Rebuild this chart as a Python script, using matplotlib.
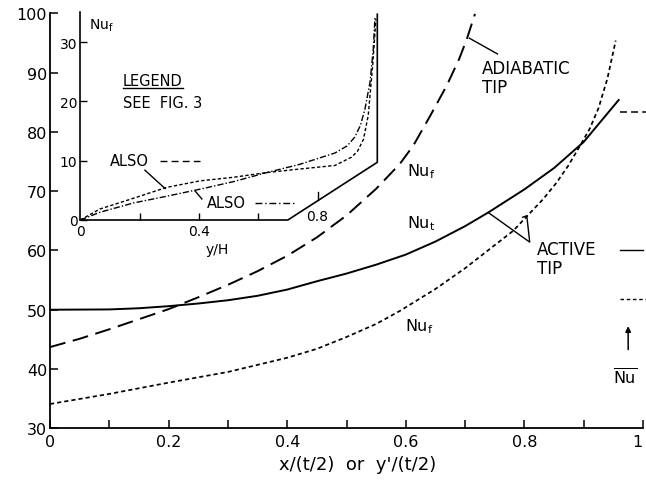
import matplotlib
matplotlib.use("Agg")
import matplotlib.pyplot as plt

plt.rcParams['font.family'] = ['DejaVu Sans']
plt.rcParams['lines.scale_dashes'] = False
plt.rcParams['mathtext.default'] = 'regular'

# ---- main chart data ----
solid_x = [0, 0.1, 0.15, 0.2, 0.25, 0.3, 0.35, 0.4, 0.45, 0.5, 0.55, 0.6, 0.65, 0.7, 0.739, 0.8, 0.85, 0.9, 0.96]
solid_y = [50, 50.05, 50.25, 50.6, 51.05, 51.6, 52.35, 53.4, 54.8, 56.1, 57.6, 59.3, 61.5, 64.1, 66.4, 70.3, 73.9, 78.3, 85.5]

adiab_x = [0, 0.05, 0.1, 0.15, 0.2, 0.25, 0.3, 0.35, 0.4, 0.45, 0.5, 0.55, 0.59, 0.6127, 0.64, 0.669, 0.69, 0.7027, 0.7167]
adiab_y = [43.7, 45.1, 46.7, 48.4, 50.1, 52.1, 54.2, 56.5, 59.1, 62.2, 65.9, 70.4, 74.6, 77.7, 82.5, 87.8, 92.3, 95.6, 99.9]

dot_x = [0, 0.1, 0.2, 0.3, 0.35, 0.4, 0.45, 0.5, 0.55, 0.59, 0.65, 0.7, 0.75, 0.781, 0.832, 0.854, 0.874, 0.894, 0.91, 0.925, 0.94, 0.954]
dot_y = [34.1, 35.8, 37.7, 39.5, 40.7, 41.9, 43.4, 45.4, 47.6, 49.8, 53.5, 57.0, 60.9, 63.3, 68.7, 71.4, 74.3, 77.7, 80.5, 84.0, 89.0, 95.4]

xticks = [0, 0.1, 0.2, 0.3, 0.4, 0.5, 0.6, 0.7, 0.8, 0.9, 1.0]
xticklabels = ['0', '', '0.2', '', '0.4', '', '0.6', '', '0.8', '', '1']
yticks = [30, 40, 50, 60, 70, 80, 90, 100]

# mean Nu markers at right
nubar_dash = 83.4
nubar_solid = 60.0
nubar_dot = 51.8

# ---- inset data ----
in_dash_x = [0, 0.066, 0.179, 0.291, 0.404, 0.516, 0.629, 0.741, 0.859, 0.915, 0.935, 0.955, 0.971, 0.986, 0.997]
in_dash_y = [0, 1.85, 3.66, 5.5, 6.6, 7.2, 8.0, 8.6, 9.2, 10.6, 11.6, 13.6, 17.6, 26.0, 33.9]
in_dd_x = [0, 0.066, 0.179, 0.291, 0.404, 0.516, 0.629, 0.741, 0.859, 0.9, 0.926, 0.945, 0.960, 0.977, 0.988, 0.994]
in_dd_y = [0, 1.3, 2.87, 4.0, 5.2, 6.46, 8.0, 9.4, 11.3, 12.5, 14.0, 16.0, 18.7, 23.2, 28.8, 34.4]
in_yticks = [0, 10, 20, 30]
in_xticks = [0.2, 0.4, 0.6]

W, H = 646, 485
fig = plt.figure(figsize=(W / 100, H / 100), dpi=100)

def fx(px):
    return px / W

def fy(py):
    return 1 - py / H

# main axes
ax = fig.add_axes([fx(50), fy(429.3), 593 / W, 415 / H])
ax.set_xlim(0, 1)
ax.set_ylim(30, 100)
for s in ['top', 'right']:
    ax.spines[s].set_visible(False)
for s in ['left', 'bottom']:
    ax.spines[s].set_linewidth(1.3)
ax.set_xticks(xticks)
ax.set_xticklabels(xticklabels)
ax.set_yticks(yticks)
ax.tick_params(direction='in', length=6, width=1.1, labelsize=11.5, pad=2)
ax.tick_params(axis='x', pad=4)
ax.get_xticklabels()[-1].set_horizontalalignment('right')
ax.patch.set_alpha(0)

ax.plot(solid_x, solid_y, color='black', lw=1.4, solid_capstyle='butt')
ax.plot(adiab_x, adiab_y, color='black', lw=1.4, dashes=(11.5, 5.5))
ax.plot(dot_x, dot_y, color='black', lw=1.25, dashes=(3, 2.2))

# labels on curves
ax.text(0.6015, 73.4, 'Nu$_\\mathregular{f}$', fontsize=11.5, va='center', ha='left')
ax.text(0.6015, 64.7, 'Nu$_\\mathregular{t}$', fontsize=11.5, va='center', ha='left')
ax.text(0.599, 47.3, 'Nu$_\\mathregular{f}$', fontsize=11.5, va='center', ha='left')

ax.text(0.728, 89.2, 'ADIABATIC\nTIP', fontsize=12, va='center', ha='left', linespacing=1.05)
ax.plot([0.7072, 0.7545], [95.8, 93.15], color='black', lw=1.0)

ax.text(0.821, 58.7, 'ACTIVE\nTIP', fontsize=12, va='center', ha='left', linespacing=1.05)
ax.plot([0.739, 0.809, 0.804, 0.797], [66.4, 61.4, 65.85, 65.6], color='black', lw=1.0)

# right-hand mean Nu markers
ax.plot([0.961, 1.01], [nubar_dash, nubar_dash], color='black', lw=1.1, dashes=(5, 3), clip_on=False)
ax.plot([0.961, 1.0], [nubar_solid, nubar_solid], color='black', lw=1.0, clip_on=False)
ax.plot([0.961, 1.01], [nubar_dot, nubar_dot], color='black', lw=1.0, dashes=(2.5, 2), clip_on=False)
ax.annotate('', xy=(0.975, 47.7), xytext=(0.975, 42.8),
            arrowprops=dict(arrowstyle='-|>', color='black', lw=1.1, mutation_scale=8),
            annotation_clip=False)
ax.text(0.970, 38.7, '$\\overline{\\mathregular{Nu}}$', fontsize=11.5, ha='center', va='center')

fig.text(fx(358), fy(465), "x/(t/2)  or  y'/(t/2)", fontsize=13, ha='center', va='center')

# inset axes
ix0, iy0 = 80.3, 221.0
ipx_x = 296.5   # pixels per unit y/H
ipx_y = 5.93    # pixels per Nu unit
iymax = 35
ai = fig.add_axes([fx(ix0), fy(iy0), ipx_x / W, iymax * ipx_y / H])
ai.set_xlim(0, 1.0)
ai.set_ylim(0, iymax)
ai.patch.set_alpha(0)
for s in ['top', 'right', 'bottom']:
    ai.spines[s].set_visible(False)
ai.spines['left'].set_linewidth(1.2)
ai.set_yticks(in_yticks)
ai.set_xticks(in_xticks)
ai.set_xticklabels(['', '0.4', ''])
ai.tick_params(direction='in', length=5, width=1.0, labelsize=10, pad=2)
ai.tick_params(axis='x', pad=3)

# broken/perspective x-axis of the inset
ai.plot([0, 0.70, 1.0017, 1.0017], [0, 0, 9.73, iymax - 0.3], color='black', lw=1.2, clip_on=False)
ai.plot([0.803, 0.803], [3.35, 4.75], color='black', lw=1.0, clip_on=False)
ai.text(0.80, 0.6, '0.8', fontsize=10, ha='center', va='center')
ai.text(0.0, -1.9, '0', fontsize=10, ha='center', va='center')
ai.text(0.46, -4.9, 'y/H', fontsize=10, ha='center', va='center')
ai.text(0.03, 33.0, 'Nu$_\\mathregular{f}$', fontsize=10, ha='left', va='center')

ai.plot(in_dash_x, in_dash_y, color='black', lw=1.0, dashes=(2.4, 1.6))
ai.plot(in_dd_x, in_dd_y, color='black', lw=1.0, dashes=(4.5, 1.5, 1, 1.5))

ai.text(0.144, 23.6, 'LEGEND', fontsize=10.5, ha='left', va='center')
ai.plot([0.144, 0.347], [22.2, 22.2], color='black', lw=1.0)
ai.text(0.144, 19.8, 'SEE  FIG. 3', fontsize=10.5, ha='left', va='center')

ai.text(0.10, 9.95, 'ALSO', fontsize=10.5, ha='left', va='center')
ai.plot([0.27, 0.405], [9.95, 9.95], color='black', lw=1.0, dashes=(5, 3))
ai.plot([0.218, 0.286], [8.4, 5.3], color='black', lw=1.0)
ai.text(0.427, 2.87, 'ALSO', fontsize=10.5, ha='left', va='center')
ai.plot([0.590, 0.727], [2.87, 2.87], color='black', lw=1.0, dashes=(5, 2, 1, 2))
ai.plot([0.41, 0.387], [3.55, 4.9], color='black', lw=1.0)

fig.savefig('out.png', dpi=100)
